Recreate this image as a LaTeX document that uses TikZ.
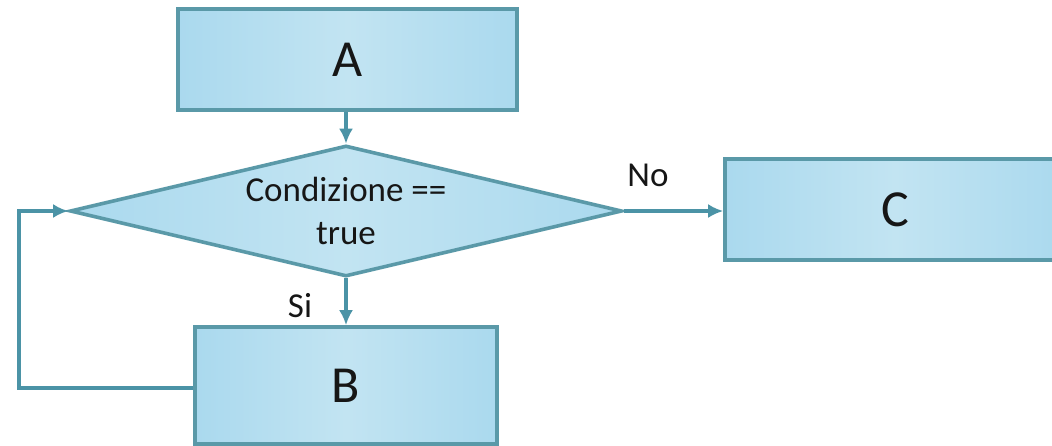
\documentclass[tikz,border=0pt]{standalone}
\usepackage{fontspec}
\setmainfont{Carlito}
\usetikzlibrary{shapes.geometric,arrows.meta}

\definecolor{edge}{HTML}{5A99A8}
\definecolor{wire}{HTML}{4B93A6}
\definecolor{fillL}{HTML}{AAD9EE}
\definecolor{fillM}{HTML}{C2E4F2}
\definecolor{ink}{HTML}{161616}

\tikzset{
  block/.style={draw=edge, line width=3.6pt, rectangle, inner sep=0pt,
    left color=fillL, right color=fillL, middle color=fillM,
    font=\fontsize{52}{56}\selectfont, text=ink},
  test/.style={draw=edge, line width=3.6pt, diamond, aspect=4.2, inner sep=0pt,
    left color=fillL, right color=fillL, middle color=fillM,
    font=\fontsize{35}{43}\selectfont, text=ink, align=center},
  flow/.style={draw=wire, line width=3.6pt,
    -{Latex[length=15pt,width=14pt]}},
  tag/.style={font=\fontsize{35}{40}\selectfont, text=ink, inner sep=0pt}
}

\begin{document}
\begin{tikzpicture}[x=1pt,y=1pt]
  \useasboundingbox (0,0) rectangle (1052,-445);
  \clip (0,0) rectangle (1052,-445);

  % process boxes and the decision
  \node[block, minimum width=339pt, minimum height=101pt] (A) at (347.5,-59.5) {A};
  \node[test, minimum width=552pt, minimum height=131pt] (D) at (346,-211)
    {Condizione ==\\true};
  \node[block, minimum width=302pt, minimum height=117pt] (B) at (346,-385.5) {B};
  \node[block, minimum width=340pt, minimum height=101pt] (C) at (895,-209.5) {C};

  % branch labels
  \node[tag] (no) at (648,-175) {No};
  \node[tag] (si) at (300,-306) {Si};

  \coordinate (loopLow) at (19,-388);
  \coordinate (loopHigh) at (19,-211);

  % connectors
  \draw[flow] (D.north |- A.south) -- (D.north);
  \draw[flow] (D.south) -- (D.south |- B.north);
  \draw[flow] (D.east) -- (D.east -| C.west);
  \draw[flow] (B.west |- loopLow) -- (loopLow) -- (loopHigh) -- (D.west);
\end{tikzpicture}
\end{document}
